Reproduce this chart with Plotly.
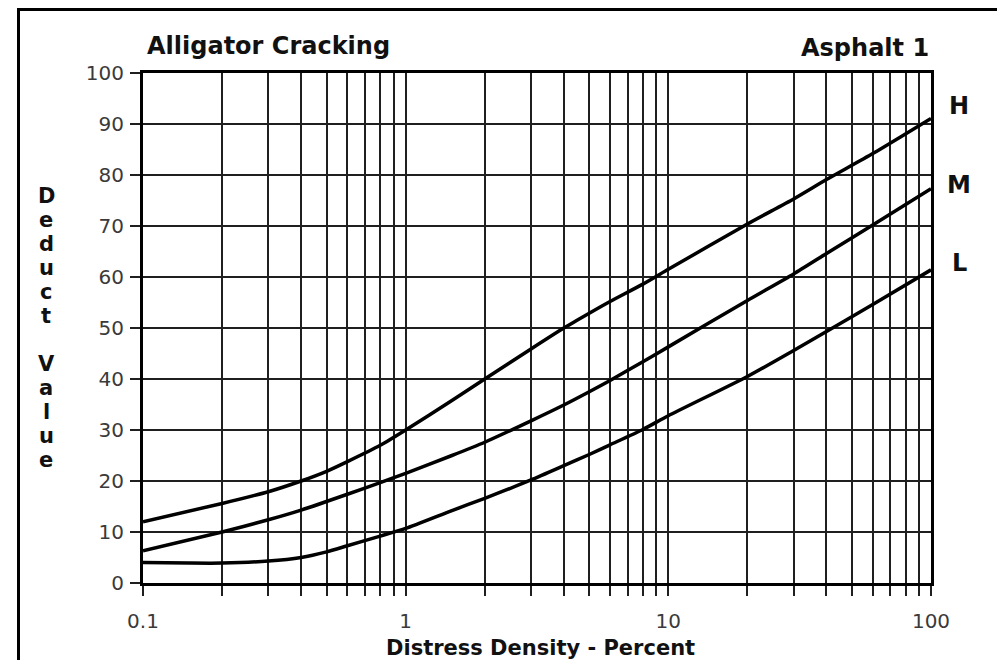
import plotly.graph_objects as go

# ---- data ----
x_high = [0.1, 0.2, 0.3, 0.4, 0.5, 0.6, 0.8, 1, 1.5, 2, 3, 4, 5, 6, 8, 10, 20, 30, 40, 60, 100]
y_high = [12, 15.6, 17.9, 20.0, 21.9, 23.8, 27.0, 30, 35.8, 40, 45.9, 50, 52.9, 55.2, 58.6, 61.5, 70.4, 75.3, 79.1, 84.2, 91.1]

x_med = [0.1, 0.2, 0.3, 0.4, 0.6, 0.8, 1, 1.5, 2, 3, 4, 5, 6, 8, 10, 20, 30, 40, 60, 100]
y_med = [6.3, 10, 12.4, 14.3, 17.4, 19.7, 21.5, 25, 27.6, 31.8, 34.9, 37.5, 39.7, 43.4, 46.3, 55.4, 60.6, 64.6, 70.2, 77.3]

x_low = [0.1, 0.15, 0.2, 0.3, 0.4, 0.5, 0.6, 0.8, 1, 1.5, 2, 3, 4, 5, 6, 8, 10, 20, 30, 40, 60, 100]
y_low = [4, 3.9, 3.9, 4.3, 5, 6.1, 7.3, 9.2, 10.7, 14.2, 16.6, 20.2, 23.0, 25.2, 27.1, 30.1, 32.8, 40.5, 45.6, 49.3, 54.6, 61.4]

series_names = ["H", "M", "L"]
label_y = [93.5, 78.0, 62.7]

x_tickvals = [m * d for d in (0.1, 1, 10) for m in range(1, 10)] + [100]
x_labels = {0.1: "0.1", 1: "1", 10: "10", 100: "100"}
x_ticktext = [x_labels.get(v, "") for v in x_tickvals]
y_tickvals = list(range(0, 101, 10))

title_left = "Alligator Cracking"
title_right = "Asphalt 1"
x_title = "Distress Density - Percent"
y_title = "Deduct Value"

# ---- figure (page body has an 8px margin, so the figure is 8px smaller) ----
OFF = 8
W, H = 1005 - OFF, 660 - OFF
PL, PR, PT, PB = 143, 931, 73, 583          # plot area in page pixels
L_M, T_M = PL - OFF, PT - OFF
R_M = W - (PR - OFF)
B_M = H - (PB - OFF)
pw, ph = PR - PL, PB - PT


def px_x(px):
    return (px - PL) / pw


def px_y(py):
    return (PB - py) / ph


fig = go.Figure()
for xs, ys, nm in zip([x_high, x_med, x_low], [y_high, y_med, y_low], series_names):
    fig.add_trace(go.Scatter(x=xs, y=ys, mode="lines", name=nm,
                             line=dict(color="black", width=3.5, shape="spline", smoothing=0.6),
                             showlegend=False, hoverinfo="x+y"))

grid_col = "#1f1f1f"
tick_font = dict(family="DejaVu Sans", size=20, color="#3a3a3a")
fig.update_xaxes(type="log", range=[-1, 2], tickvals=x_tickvals, ticktext=x_ticktext,
                 showgrid=True, gridcolor=grid_col, gridwidth=2,
                 ticks="outside", ticklen=10, tickwidth=2, tickcolor=grid_col,
                 ticklabelstandoff=8,
                 showline=True, linecolor="black", linewidth=3, mirror=True,
                 tickfont=tick_font, zeroline=False)
fig.update_yaxes(range=[0, 100], tickvals=y_tickvals,
                 showgrid=True, gridcolor=grid_col, gridwidth=2,
                 ticks="outside", ticklen=10, tickwidth=2, tickcolor=grid_col,
                 ticklabelstandoff=2,
                 showline=True, linecolor="black", linewidth=3, mirror=True,
                 tickfont=tick_font, zeroline=False)

big_bold = dict(family="DejaVu Sans", size=24, color="#111111")
annotations = [
    dict(text="<b>%s</b>" % title_left, xref="paper", yref="paper", x=px_x(145), y=px_y(46),
         xanchor="left", yanchor="middle", showarrow=False, font=big_bold),
    dict(text="<b>%s</b>" % title_right, xref="paper", yref="paper", x=px_x(931), y=px_y(48),
         xanchor="right", yanchor="middle", showarrow=False, font=big_bold),
    dict(text="<b>%s</b>" % x_title, xref="paper", yref="paper", x=px_x(540), y=px_y(648),
         xanchor="center", yanchor="middle", showarrow=False,
         font=dict(family="DejaVu Sans", size=21, color="#111111")),
]
# vertical stacked y-axis title, one letter per row
pitch = 24
y0 = 196
for i, ch in enumerate(y_title):
    if ch == " ":
        continue
    annotations.append(dict(text="<b>%s</b>" % ch, xref="paper", yref="paper",
                            x=px_x(46), y=px_y(y0 + i * pitch),
                            xanchor="center", yanchor="middle", showarrow=False,
                            font=dict(family="DejaVu Sans", size=21, color="#111111")))
for nm, ly in zip(series_names, label_y):
    annotations.append(dict(text="<b>%s</b>" % nm, xref="paper", yref="y", x=px_x(959), y=ly,
                            xanchor="center", yanchor="middle", showarrow=False, font=big_bold))

fig.update_layout(
    width=W, height=H,
    margin=dict(l=L_M, r=R_M, t=T_M, b=B_M),
    paper_bgcolor="white", plot_bgcolor="white",
    annotations=annotations,
    shapes=[dict(type="rect", xref="paper", yref="paper",
                 x0=px_x(18.5), x1=px_x(999), y0=px_y(672), y1=px_y(9.5),
                 line=dict(color="black", width=3), layer="above")],
)

fig.write_html("out.html")
